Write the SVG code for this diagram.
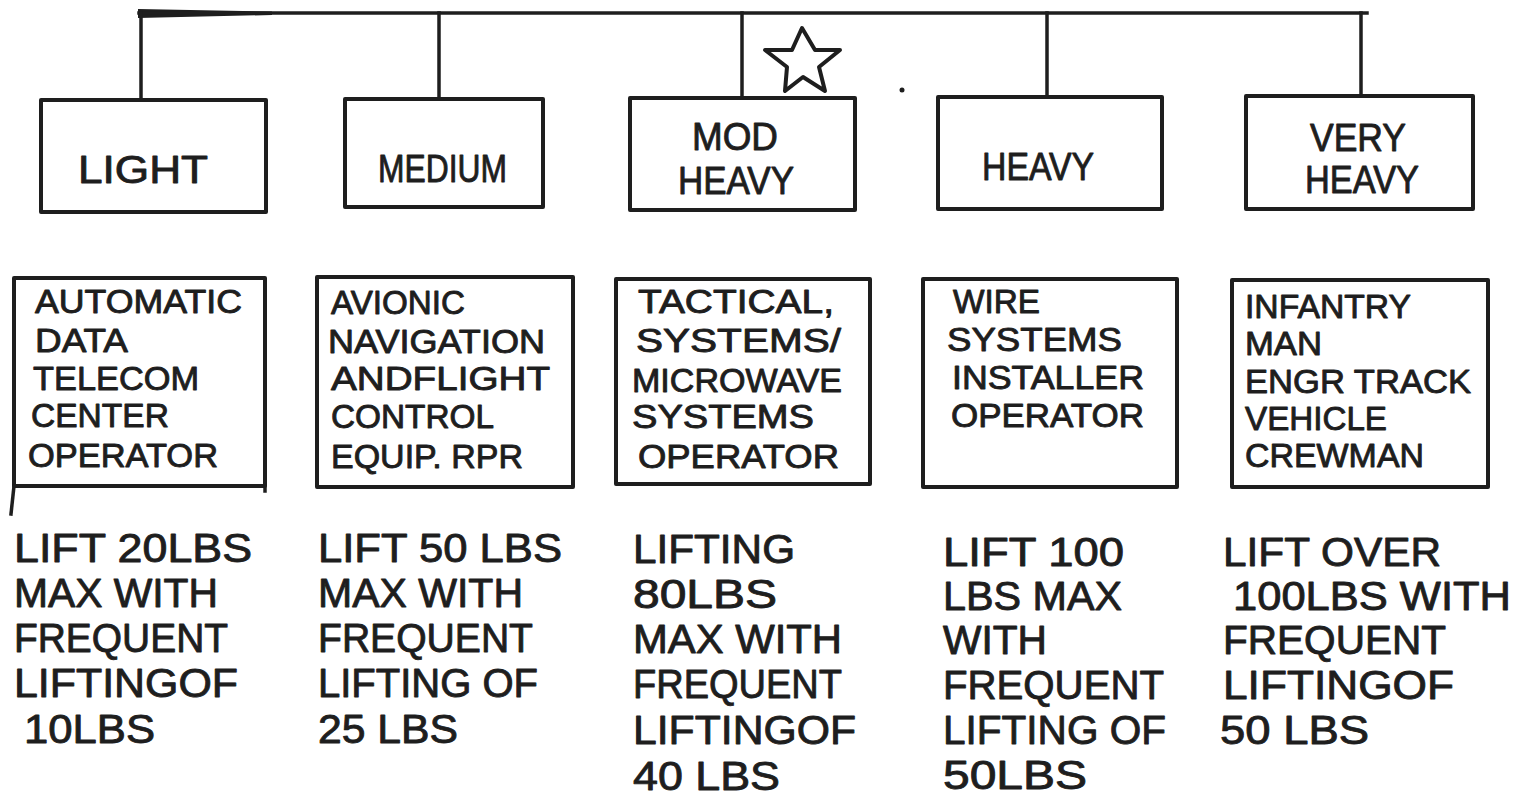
<svg xmlns="http://www.w3.org/2000/svg" width="1517" height="798" viewBox="0 0 1517 798">
<style>
.box{fill:none;stroke:#1e1e1e;stroke-width:4;stroke-linejoin:round}
.conn{fill:none;stroke:#1e1e1e;stroke-width:3.5;stroke-linecap:square}
.t{font-family:"Liberation Sans",Arial,sans-serif;fill:#1e1e1e;stroke:#1e1e1e;stroke-width:0.9;stroke-linejoin:round}
.lg{font-size:39px}
.md{font-size:33px}
.bt{font-size:40px}
</style>
<rect x="0" y="0" width="1517" height="798" fill="#ffffff"/>
<g id="connectors">
<polygon points="138,9 272,11.5 272,15 138,18" fill="#1e1e1e"/>
<line class="conn" x1="139" y1="13" x2="1367" y2="13"/>
<line class="conn" x1="141" y1="13" x2="141" y2="100"/>
<line class="conn" x1="439" y1="13" x2="439" y2="99"/>
<line class="conn" x1="742" y1="13" x2="742" y2="98"/>
<line class="conn" x1="1047" y1="13" x2="1047" y2="97"/>
<line class="conn" x1="1361" y1="13" x2="1361" y2="96"/>
</g>
<g id="star">
<polygon points="802,28 815,50 840,50 819,67 825,91 803,77 785,91 787,67 765,50 792,50" fill="none" stroke="#1e1e1e" stroke-width="4" stroke-linejoin="round"/>
<circle cx="902" cy="90" r="2.5" fill="#1e1e1e"/>
</g>
<g id="light">
<rect class="box" x="41" y="100" width="225" height="112"/>
<text class="t lg" x="78" y="183" textLength="130" lengthAdjust="spacingAndGlyphs">LIGHT</text>
</g>
<g id="medium">
<rect class="box" x="345" y="99" width="198" height="108"/>
<text class="t lg" x="378" y="182" textLength="129" lengthAdjust="spacingAndGlyphs">MEDIUM</text>
</g>
<g id="modheavy">
<rect class="box" x="630" y="98" width="225" height="112"/>
<text class="t lg" x="692" y="150" textLength="86" lengthAdjust="spacingAndGlyphs">MOD</text>
<text class="t lg" x="678" y="194" textLength="116" lengthAdjust="spacingAndGlyphs">HEAVY</text>
</g>
<g id="heavy">
<rect class="box" x="938" y="97" width="224" height="112"/>
<text class="t lg" x="982" y="180" textLength="112" lengthAdjust="spacingAndGlyphs">HEAVY</text>
</g>
<g id="veryheavy">
<rect class="box" x="1246" y="96" width="227" height="113"/>
<text class="t lg" x="1310" y="151" textLength="96" lengthAdjust="spacingAndGlyphs">VERY</text>
<text class="t lg" x="1305" y="193" textLength="114" lengthAdjust="spacingAndGlyphs">HEAVY</text>
</g>
<g id="job-light">
<rect class="box" x="14" y="278" width="251" height="208"/>
<line class="conn" x1="14" y1="486" x2="11" y2="514"/>
<line class="conn" x1="265" y1="486" x2="265" y2="491"/>
<text class="t md" x="35" y="313" textLength="207" lengthAdjust="spacingAndGlyphs">AUTOMATIC</text>
<text class="t md" x="35" y="352" textLength="93" lengthAdjust="spacingAndGlyphs">DATA</text>
<text class="t md" x="33" y="390" textLength="166" lengthAdjust="spacingAndGlyphs">TELECOM</text>
<text class="t md" x="31" y="427" textLength="138" lengthAdjust="spacingAndGlyphs">CENTER</text>
<text class="t md" x="28" y="467" textLength="190" lengthAdjust="spacingAndGlyphs">OPERATOR</text>
</g>
<g id="job-medium">
<rect class="box" x="317" y="277" width="256" height="210"/>
<text class="t md" x="331" y="314" textLength="134" lengthAdjust="spacingAndGlyphs">AVIONIC</text>
<text class="t md" x="328" y="353" textLength="217" lengthAdjust="spacingAndGlyphs">NAVIGATION</text>
<text class="t md" x="331" y="390" textLength="219" lengthAdjust="spacingAndGlyphs">ANDFLIGHT</text>
<text class="t md" x="331" y="428" textLength="163" lengthAdjust="spacingAndGlyphs">CONTROL</text>
<text class="t md" x="331" y="468" textLength="192" lengthAdjust="spacingAndGlyphs">EQUIP. RPR</text>
</g>
<g id="job-modheavy">
<rect class="box" x="616" y="279" width="254" height="205"/>
<text class="t md" x="638" y="313" textLength="196" lengthAdjust="spacingAndGlyphs">TACTICAL,</text>
<text class="t md" x="636" y="352" textLength="205" lengthAdjust="spacingAndGlyphs">SYSTEMS/</text>
<text class="t md" x="632" y="392" textLength="210" lengthAdjust="spacingAndGlyphs">MICROWAVE</text>
<text class="t md" x="632" y="428" textLength="182" lengthAdjust="spacingAndGlyphs">SYSTEMS</text>
<text class="t md" x="638" y="468" textLength="201" lengthAdjust="spacingAndGlyphs">OPERATOR</text>
</g>
<g id="job-heavy">
<rect class="box" x="923" y="279" width="254" height="208"/>
<text class="t md" x="953" y="313" textLength="87" lengthAdjust="spacingAndGlyphs">WIRE</text>
<text class="t md" x="947" y="351" textLength="175" lengthAdjust="spacingAndGlyphs">SYSTEMS</text>
<text class="t md" x="952" y="389" textLength="192" lengthAdjust="spacingAndGlyphs">INSTALLER</text>
<text class="t md" x="951" y="427" textLength="193" lengthAdjust="spacingAndGlyphs">OPERATOR</text>
</g>
<g id="job-veryheavy">
<rect class="box" x="1232" y="280" width="256" height="207"/>
<text class="t md" x="1245" y="318" textLength="166" lengthAdjust="spacingAndGlyphs">INFANTRY</text>
<text class="t md" x="1245" y="355" textLength="77" lengthAdjust="spacingAndGlyphs">MAN</text>
<text class="t md" x="1245" y="393" textLength="226" lengthAdjust="spacingAndGlyphs">ENGR TRACK</text>
<text class="t md" x="1245" y="430" textLength="142" lengthAdjust="spacingAndGlyphs">VEHICLE</text>
<text class="t md" x="1245" y="467" textLength="179" lengthAdjust="spacingAndGlyphs">CREWMAN</text>
</g>
<g id="req-light">
<text class="t bt" x="14" y="562" textLength="238" lengthAdjust="spacingAndGlyphs">LIFT 20LBS</text>
<text class="t bt" x="14" y="607" textLength="204" lengthAdjust="spacingAndGlyphs">MAX WITH</text>
<text class="t bt" x="14" y="652" textLength="214" lengthAdjust="spacingAndGlyphs">FREQUENT</text>
<text class="t bt" x="14" y="697" textLength="224" lengthAdjust="spacingAndGlyphs">LIFTINGOF</text>
<text class="t bt" x="24" y="743" textLength="131" lengthAdjust="spacingAndGlyphs">10LBS</text>
</g>
<g id="req-medium">
<text class="t bt" x="318" y="562" textLength="244" lengthAdjust="spacingAndGlyphs">LIFT 50 LBS</text>
<text class="t bt" x="318" y="607" textLength="205" lengthAdjust="spacingAndGlyphs">MAX WITH</text>
<text class="t bt" x="318" y="652" textLength="215" lengthAdjust="spacingAndGlyphs">FREQUENT</text>
<text class="t bt" x="318" y="697" textLength="220" lengthAdjust="spacingAndGlyphs">LIFTING OF</text>
<text class="t bt" x="318" y="743" textLength="140" lengthAdjust="spacingAndGlyphs">25 LBS</text>
</g>
<g id="req-modheavy">
<text class="t bt" x="633" y="563" textLength="162" lengthAdjust="spacingAndGlyphs">LIFTING</text>
<text class="t bt" x="633" y="608" textLength="144" lengthAdjust="spacingAndGlyphs">80LBS</text>
<text class="t bt" x="633" y="653" textLength="209" lengthAdjust="spacingAndGlyphs">MAX WITH</text>
<text class="t bt" x="633" y="698" textLength="209" lengthAdjust="spacingAndGlyphs">FREQUENT</text>
<text class="t bt" x="633" y="744" textLength="223" lengthAdjust="spacingAndGlyphs">LIFTINGOF</text>
<text class="t bt" x="633" y="790" textLength="147" lengthAdjust="spacingAndGlyphs">40 LBS</text>
</g>
<g id="req-heavy">
<text class="t bt" x="943" y="566" textLength="181" lengthAdjust="spacingAndGlyphs">LIFT 100</text>
<text class="t bt" x="943" y="610" textLength="179" lengthAdjust="spacingAndGlyphs">LBS MAX</text>
<text class="t bt" x="943" y="654" textLength="104" lengthAdjust="spacingAndGlyphs">WITH</text>
<text class="t bt" x="943" y="699" textLength="221" lengthAdjust="spacingAndGlyphs">FREQUENT</text>
<text class="t bt" x="943" y="744" textLength="223" lengthAdjust="spacingAndGlyphs">LIFTING OF</text>
<text class="t bt" x="943" y="789" textLength="144" lengthAdjust="spacingAndGlyphs">50LBS</text>
</g>
<g id="req-veryheavy">
<text class="t bt" x="1223" y="566" textLength="218" lengthAdjust="spacingAndGlyphs">LIFT OVER</text>
<text class="t bt" x="1233" y="610" textLength="278" lengthAdjust="spacingAndGlyphs">100LBS WITH</text>
<text class="t bt" x="1223" y="654" textLength="223" lengthAdjust="spacingAndGlyphs">FREQUENT</text>
<text class="t bt" x="1223" y="699" textLength="231" lengthAdjust="spacingAndGlyphs">LIFTINGOF</text>
<text class="t bt" x="1220" y="744" textLength="149" lengthAdjust="spacingAndGlyphs">50 LBS</text>
</g>
</svg>
